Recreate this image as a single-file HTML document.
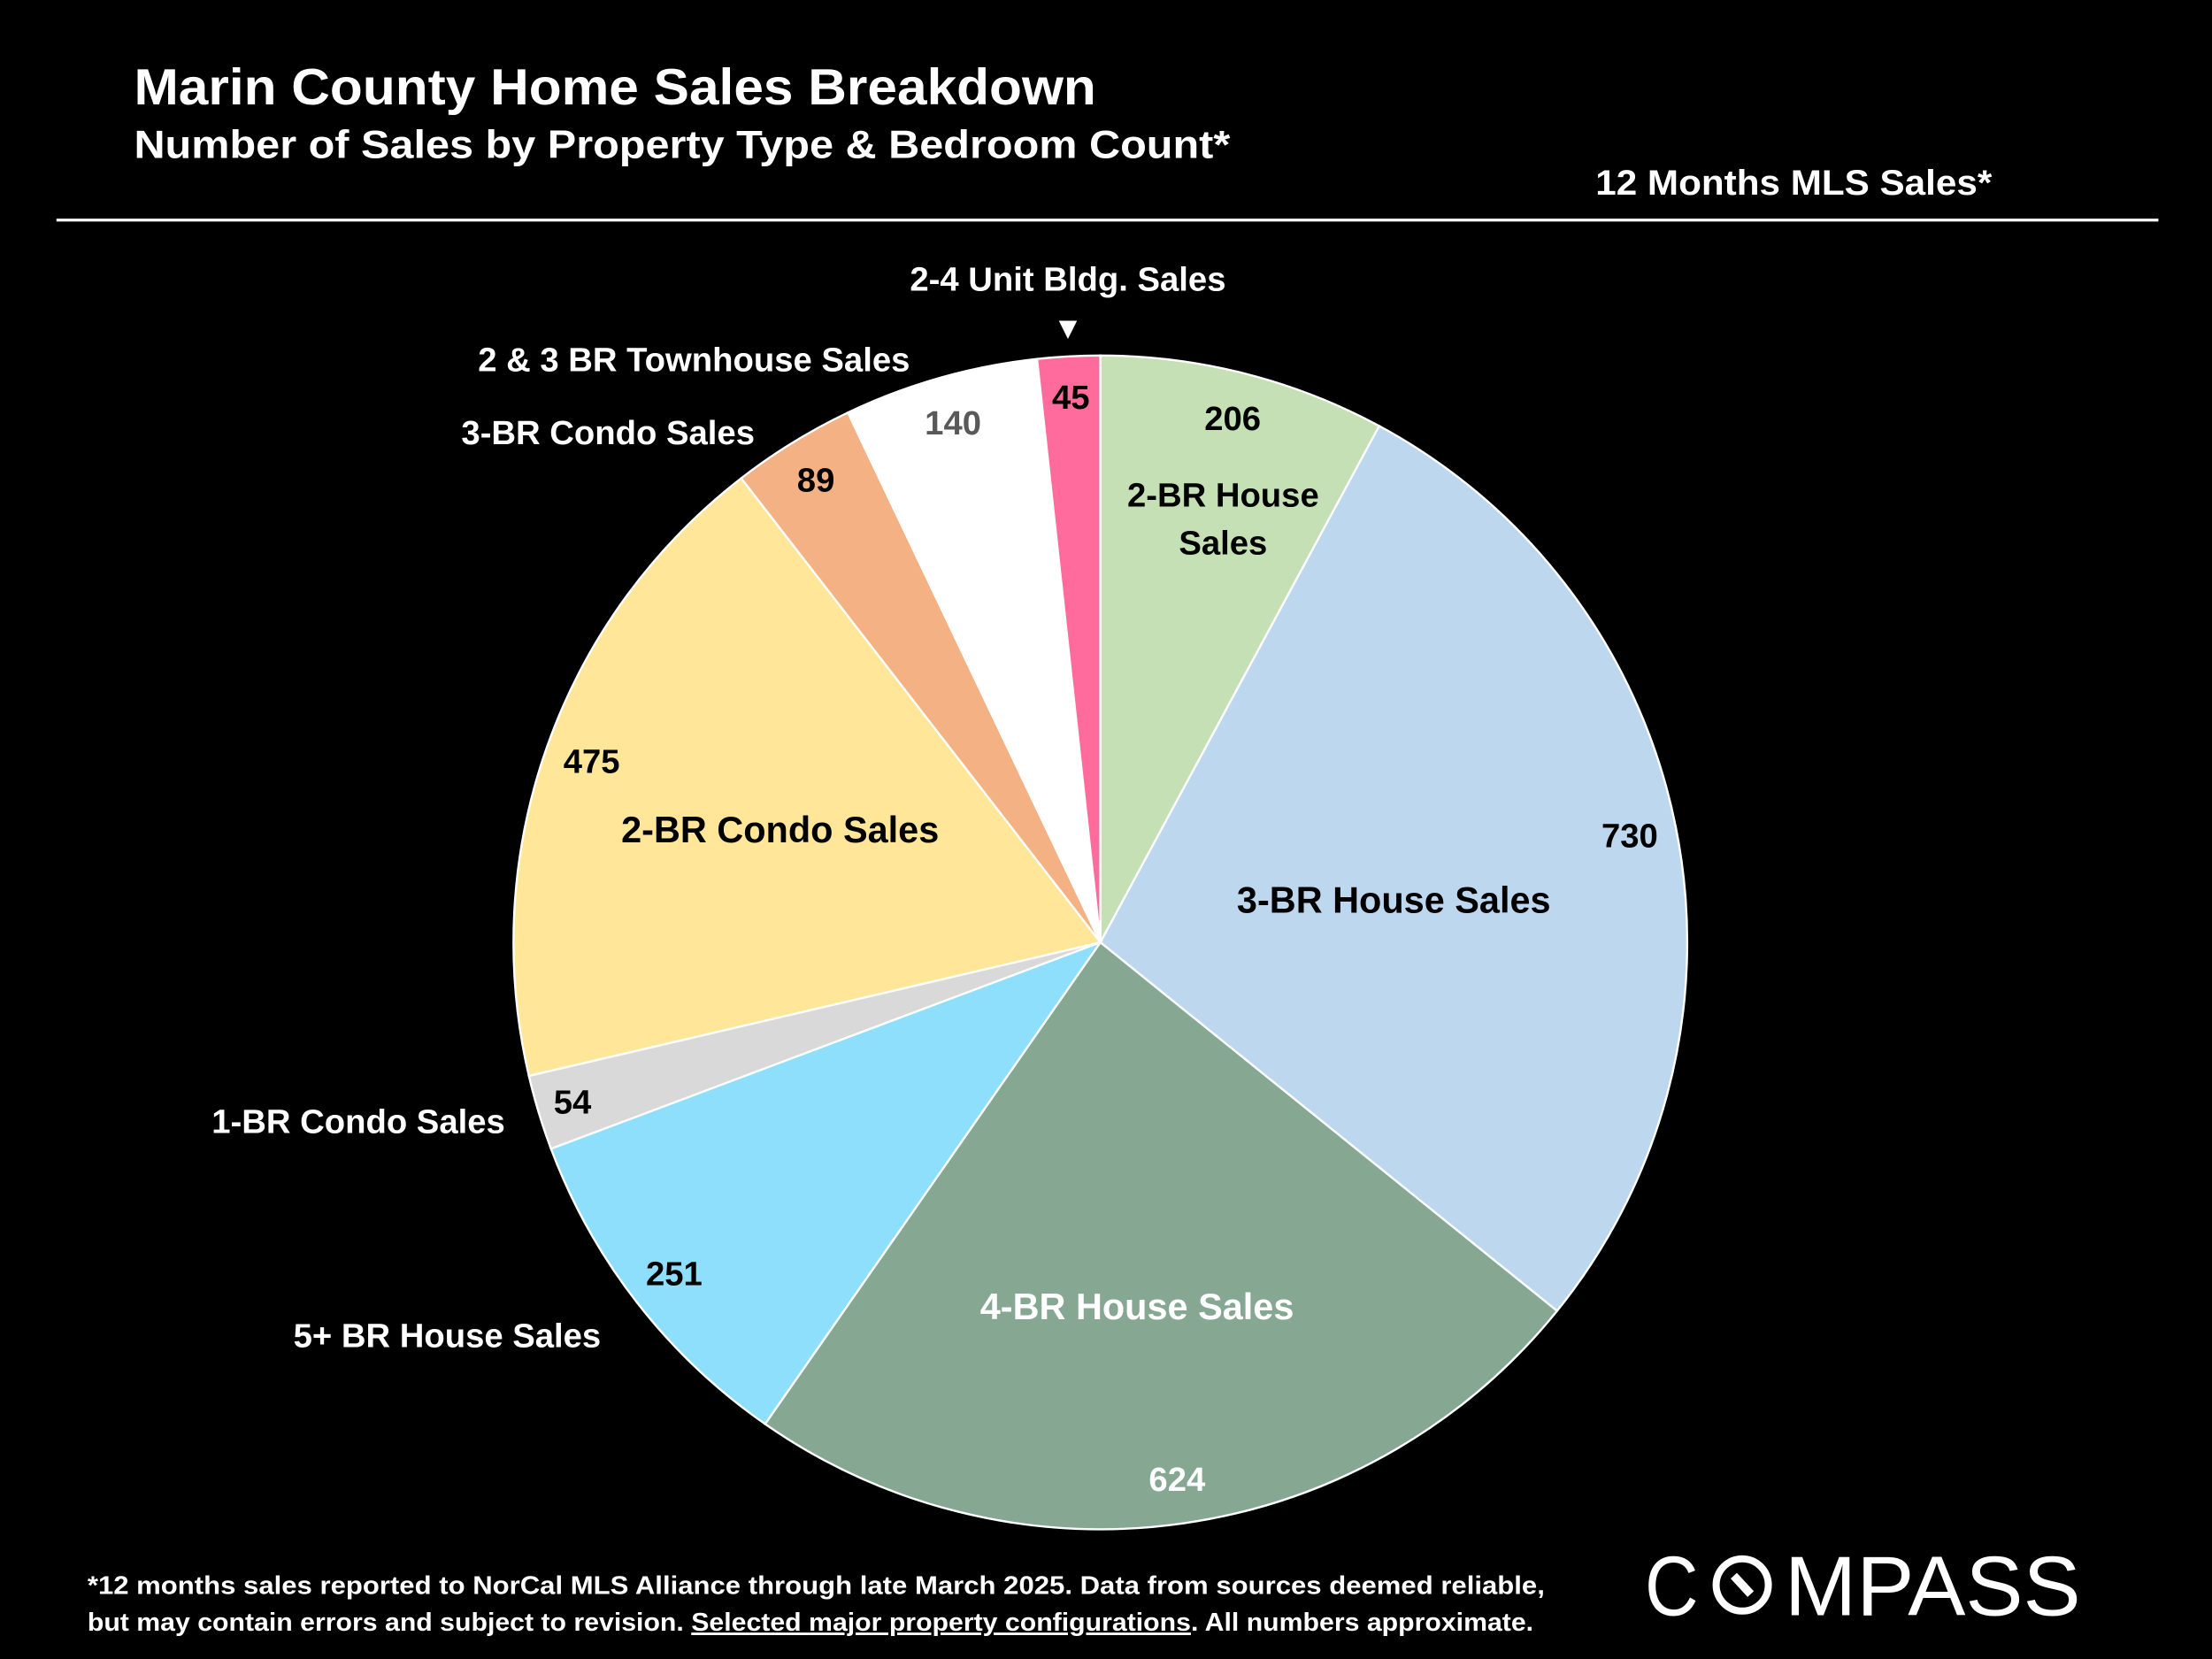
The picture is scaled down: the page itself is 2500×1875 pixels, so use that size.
<!DOCTYPE html>
<html><head><meta charset="utf-8"><style>
html,body{margin:0;padding:0;background:#000;}
svg{display:block;font-family:"Liberation Sans",sans-serif;font-weight:bold;}
</style></head><body>
<svg width="2500" height="1875" viewBox="0 0 1568 1176" xmlns="http://www.w3.org/2000/svg">
<rect width="1568" height="1176" fill="#000"/>
<text x="95" y="74" fill="#fff" font-size="36" textLength="682" lengthAdjust="spacingAndGlyphs">Marin County Home Sales Breakdown</text>
<text x="95" y="112" fill="#fff" font-size="28" textLength="777" lengthAdjust="spacingAndGlyphs">Number of Sales by Property Type &amp; Bedroom Count*</text>
<text x="1131" y="138" fill="#fff" font-size="25" textLength="281" lengthAdjust="spacingAndGlyphs">12 Months MLS Sales*</text>
<line x1="40" y1="156" x2="1530" y2="156" stroke="#fff" stroke-width="2"/>
<g id="pie"></g>
<g id="labels" fill="#000" font-size="24">
<text x="757" y="206" fill="#fff" text-anchor="middle">2-4 Unit Bldg. Sales</text>
<text x="757" y="240" fill="#fff" text-anchor="middle" font-size="22">▼</text>
<text x="645" y="263" fill="#fff" text-anchor="end">2 &amp; 3 BR Townhouse Sales</text>
<text x="535" y="315" fill="#fff" text-anchor="end">3-BR Condo Sales</text>
<text x="867" y="359" text-anchor="middle">2-BR House</text>
<text x="867" y="393" text-anchor="middle">Sales</text>
<text x="988" y="647" text-anchor="middle" font-size="26">3-BR House Sales</text>
<text x="806" y="935" fill="#fff" text-anchor="middle" font-size="26">4-BR House Sales</text>
<text x="553" y="597" text-anchor="middle" font-size="26">2-BR Condo Sales</text>
<text x="358" y="803" fill="#fff" text-anchor="end">1-BR Condo Sales</text>
<text x="426" y="955" fill="#fff" text-anchor="end">5+ BR House Sales</text>
</g>
<g id="values" font-size="24"></g>
<text x="62" y="1130" fill="#fff" font-size="18" textLength="1033" lengthAdjust="spacingAndGlyphs">*12 months sales reported to NorCal MLS Alliance through late March 2025. Data from sources deemed reliable,</text>
<text x="62" y="1156" fill="#fff" font-size="18" textLength="1025" lengthAdjust="spacingAndGlyphs">but may contain errors and subject to revision. <tspan text-decoration="underline">Selected major property configurations</tspan>. All numbers approximate.</text>
<g>
<text x="1166" y="1145" fill="#fff" font-size="60" font-weight="normal" textLength="38" lengthAdjust="spacingAndGlyphs">C</text>
<circle cx="1235" cy="1123.5" r="18.5" fill="none" stroke="#fff" stroke-width="5"/>
<line x1="1229" y1="1117" x2="1241" y2="1130" stroke="#fff" stroke-width="6"/>
<text x="1265" y="1145" fill="#fff" font-size="60" font-weight="normal" textLength="210" lengthAdjust="spacingAndGlyphs">MPASS</text>
</g>
</svg>
<script>
const categories = ["2-BR House","3-BR House","4-BR House","5+ BR House","1-BR Condo","2-BR Condo","3-BR Condo","2 & 3 BR Townhouse","2-4 Unit Bldg."];
const values = [206,730,624,251,54,475,89,140,45];
const colors = ["#c5e0b4","#bdd7ee","#86a893","#8ddffc","#d9d9d9","#ffe699","#f4b183","#ffffff","#ff6b9d"];
const valueColors = ["#000","#000","#fff","#000","#000","#000","#000","#595959","#000"];
const labelRadius = [0.92,0.92,0.925,0.92,0.94,0.92,0.925,0.92,0.93];
const cx=780, cy=668, r=416;
const NS="http://www.w3.org/2000/svg";
const total=values.reduce((a,b)=>a+b,0);
const pie=document.getElementById('pie'), vg=document.getElementById('values');
function pt(a,rr){return [cx+rr*Math.sin(a), cy-rr*Math.cos(a)];}
let acc=0;
values.forEach((v,i)=>{
  const a0=acc/total*2*Math.PI; acc+=v; const a1=acc/total*2*Math.PI;
  const p0=pt(a0,r), p1=pt(a1,r);
  const path=document.createElementNS(NS,'path');
  path.setAttribute('d',`M${cx},${cy}L${p0[0]},${p0[1]}A${r},${r} 0 ${a1-a0>Math.PI?1:0} 1 ${p1[0]},${p1[1]}Z`);
  path.setAttribute('fill',colors[i]); path.setAttribute('stroke','#fff'); path.setAttribute('stroke-width','1.5');
  
  
  pie.appendChild(path);
  const am=(a0+a1)/2, lp=pt(am,r*labelRadius[i]);
  const t=document.createElementNS(NS,'text');
  t.setAttribute('x',lp[0]); t.setAttribute('y',lp[1]+8); t.setAttribute('text-anchor','middle');
  t.setAttribute('fill',valueColors[i]); t.textContent=v;
  
  
  vg.appendChild(t);
});
</script>
</body></html>
